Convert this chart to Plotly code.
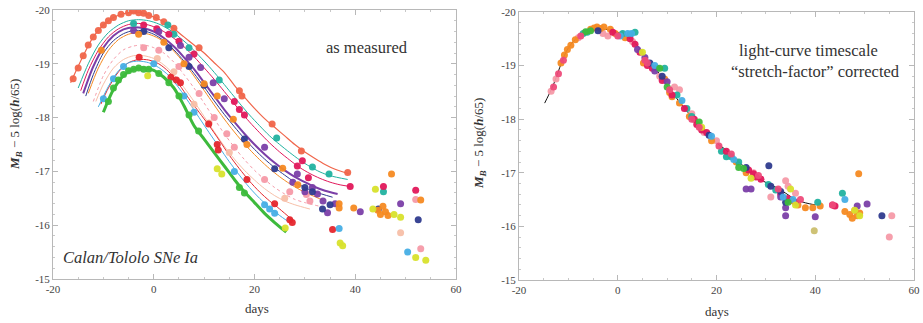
import plotly.graph_objects as go

# ---------------- LEFT PANEL: "as measured" light curves ----------------
lc_A_days = [-16.5,-14,-12,-10,-8,-6,-4,-2,0,2,4,6,8,10,12,14,16,18,20,22,24,26,28,30,32,34,36,38.7]
lc_A_mags = [-18.65,-19.15,-19.5,-19.72,-19.86,-19.93,-19.96,-19.94,-19.87,-19.78,-19.65,-19.5,-19.35,-19.2,-19.02,-18.84,-18.6,-18.38,-18.17,-17.98,-17.82,-17.66,-17.5,-17.36,-17.24,-17.13,-17.04,-16.96]
lc_B_days = [-15,-13,-11,-9,-7,-5,-3,-1,1,3,5,7,9,11,13,15,17,19,21,23,25,27,29,31,33,35,38.5]
lc_B_mags = [-18.55,-19.0,-19.35,-19.58,-19.72,-19.8,-19.82,-19.8,-19.74,-19.64,-19.5,-19.34,-19.15,-18.95,-18.73,-18.5,-18.27,-18.05,-17.85,-17.66,-17.5,-17.35,-17.21,-17.09,-16.99,-16.92,-16.85]
lc_C_days = [-14.5,-13,-11,-9,-7,-5,-3,-1,1,3,5,7,9,11,13,15,17,19,21,23,25,27,29,31,33,35,37,39]
lc_C_mags = [-18.5,-18.88,-19.25,-19.5,-19.65,-19.73,-19.75,-19.72,-19.65,-19.54,-19.4,-19.23,-19.03,-18.82,-18.6,-18.37,-18.14,-17.92,-17.72,-17.53,-17.36,-17.21,-17.07,-16.96,-16.87,-16.8,-16.75,-16.72]
lc_D_days = [-14,-12,-10,-8,-6,-4,-2,0,2,4,6,8,10,12,14,16,18,20,22,24,26,28,30,32,34,36.5]
lc_D_mags = [-18.45,-18.95,-19.3,-19.52,-19.64,-19.68,-19.66,-19.6,-19.48,-19.32,-19.12,-18.9,-18.65,-18.4,-18.15,-17.92,-17.7,-17.5,-17.32,-17.16,-17.02,-16.9,-16.8,-16.71,-16.64,-16.58]
lc_E_days = [-13.5,-12,-10,-8,-6,-4,-2,0,2,4,6,8,10,12,14,16,18,20,22,24,26,28,30,32,35.5]
lc_E_mags = [-18.4,-18.8,-19.2,-19.43,-19.56,-19.62,-19.61,-19.55,-19.43,-19.26,-19.05,-18.82,-18.57,-18.31,-18.06,-17.83,-17.61,-17.41,-17.23,-17.07,-16.93,-16.8,-16.7,-16.62,-16.52]
lc_F_days = [-13,-11,-9,-7,-5,-3,-1,1,3,5,7,9,11,13,15,17,19,21,23,25,27,29,31,34]
lc_F_mags = [-18.45,-18.92,-19.25,-19.45,-19.55,-19.58,-19.55,-19.47,-19.33,-19.13,-18.9,-18.64,-18.37,-18.1,-17.85,-17.62,-17.41,-17.22,-17.05,-16.9,-16.77,-16.66,-16.57,-16.45]
lc_G_days = [-12,-10,-8,-6,-4,-2,0,2,4,6,8,10,12,14,16,18,20,22,24,26,28,30,33]
lc_G_mags = [-18.3,-18.78,-19.08,-19.26,-19.33,-19.35,-19.3,-19.2,-19.03,-18.8,-18.55,-18.27,-17.98,-17.7,-17.45,-17.22,-17.02,-16.85,-16.7,-16.58,-16.48,-16.42,-16.35]
lc_H_days = [-11.5,-10,-8,-6,-4,-2,0,2,4,6,8,10,12,14,16,18,20,22,24,26,28,31]
lc_H_mags = [-18.3,-18.62,-18.92,-19.08,-19.15,-19.15,-19.1,-18.98,-18.8,-18.56,-18.3,-18.02,-17.74,-17.47,-17.23,-17.02,-16.84,-16.68,-16.55,-16.45,-16.38,-16.3]
lc_I_days = [-10.5,-9,-7,-5,-3,-1,1,3,5,7,9,11,13,15,17,19,21,23,25,27.5]
lc_I_mags = [-18.25,-18.55,-18.85,-19.02,-19.08,-19.07,-19.0,-18.85,-18.62,-18.35,-18.1,-17.85,-17.58,-17.3,-17.05,-16.82,-16.62,-16.45,-16.3,-16.1]
lc_J_days = [-11,-9,-7,-5,-3,-1,1,3,5,7,9,11,13,15,17,19,21,23,25,26.5]
lc_J_mags = [-18.2,-18.58,-18.87,-19.02,-19.05,-19.02,-18.93,-18.78,-18.55,-18.28,-18.0,-17.72,-17.45,-17.18,-16.93,-16.7,-16.5,-16.33,-16.18,-16.08]
lc_K_days = [-10,-8,-6,-4,-2,0,2,4,6,8,10,12,14,16,18,20,22,24,26.3]
lc_K_mags = [-18.1,-18.52,-18.78,-18.9,-18.92,-18.88,-18.75,-18.55,-18.22,-17.85,-17.6,-17.35,-17.1,-16.85,-16.62,-16.42,-16.22,-16.05,-15.87]

# measured points (left), per supernova colour group
mk_A_days = [-16,-15,-14,-13,-12,-11,-10,-9,-8,-6.5,-5,-4,-3,-2,-1,0.5,2,4,9,17,17.5,23.5,29.3,38.5]
mk_A_mags = [-18.72,-18.92,-19.15,-19.35,-19.5,-19.62,-19.72,-19.8,-19.86,-19.92,-19.95,-19.98,-19.95,-19.94,-19.9,-19.86,-19.78,-19.66,-19.3,-18.5,-18.4,-17.88,-17.38,-16.98]
mk_B_days = [-4,2.8,4,7,13,24.4,31.5,34.8,45.6]
mk_B_mags = [-19.75,-19.72,-19.55,-19.3,-18.7,-17.62,-17.08,-16.95,-16.62]
mk_C_days = [-2,0.6,3,5,8,16,17,18,28.5,29.5,30.7,39,45.6,52]
mk_C_mags = [-19.72,-19.65,-19.55,-19.42,-19.18,-18.3,-18.15,-18.05,-17.1,-17.2,-16.88,-16.72,-16.72,-16.65]
mk_D_days = [-4,1,5.3,7,9.3,11.8,14,22,27.6,28.5,30,31.5,32.5,33.6,34.5,36,41,49]
mk_D_mags = [-19.62,-19.6,-19.34,-19.12,-18.93,-18.65,-18.35,-17.45,-16.8,-16.95,-16.62,-16.7,-16.58,-16.45,-16.23,-16.4,-16.25,-16.4]
mk_E_days = [-2,3,7,10,18,24,30,31.5,33.5,35,44.6,52.5]
mk_E_mags = [-19.6,-19.3,-18.95,-18.6,-17.6,-17.05,-16.7,-16.62,-16.3,-16.38,-16.3,-16.1]
mk_F_days = [-10.4,-3,2,6,10,12.6,15.8,18.5,25.6,28.6,36.8,36.8,39.7,44.5,45,46,45.5,46.5,47.2,53]
mk_F_mags = [-19.25,-19.55,-19.4,-19.0,-18.63,-18.4,-17.97,-17.5,-17.06,-16.75,-16.4,-16.32,-16.32,-16.28,-16.2,-16.25,-16.35,-16.18,-16.95,-16.47]
mk_G_days = [-2,1,5,9,12,14.5,16,22,27,30.3,31,52,53]
mk_G_mags = [-19.3,-19.25,-18.95,-18.45,-18.0,-17.7,-17.45,-16.85,-16.62,-16.57,-16.45,-16.48,-15.56]
mk_H_days = [0.7,4,8,11,15,26,49]
mk_H_mags = [-19.1,-18.85,-18.25,-17.9,-17.35,-16.5,-15.86]
mk_I_days = [-2.9,3.4,4.5,5.3,10.9,12.6,12.8,18.5,24,27,27.5,35.5]
mk_I_mags = [-19.12,-18.75,-18.7,-18.65,-17.88,-17.5,-17.4,-16.85,-16.4,-16.1,-16.05,-15.92]
mk_J_days = [-10,-8,-6,0,6,8,16,22,23,24,36.8,50.4]
mk_J_mags = [-18.35,-18.72,-18.95,-19.0,-18.4,-18.1,-17.0,-16.38,-16.3,-16.22,-15.94,-15.5]
mk_K_days = [-9,-8,-7,-6,-5,-4,-3,-2,-1,1,3,5,7,8.9,17,18]
mk_K_mags = [-18.3,-18.55,-18.7,-18.8,-18.87,-18.9,-18.92,-18.9,-18.9,-18.82,-18.65,-18.4,-18.05,-17.75,-16.7,-16.6]
mk_Y_days = [-1.2,12.6,13.5,26.1,37,37.5,43.5,44,47.7,49,52,54]
mk_Y_mags = [-18.78,-17.05,-16.95,-15.95,-15.67,-15.62,-16.3,-16.67,-16.2,-16.15,-15.4,-15.35]

# ---------------- RIGHT PANEL: stretch-corrected ----------------
tmpl_days = [-14.8,-14,-13,-12,-11,-10,-9,-8,-6,-4,-2,0,2,4,6,8,10,12,14,16,18,20,22,24,26,28,30,32,34,36,38,40]
tmpl_mags = [-18.3,-18.45,-18.65,-18.9,-19.15,-19.33,-19.45,-19.53,-19.63,-19.68,-19.67,-19.62,-19.53,-19.37,-19.1,-18.9,-18.63,-18.38,-18.15,-17.94,-17.74,-17.56,-17.42,-17.25,-17.08,-16.92,-16.82,-16.73,-16.62,-16.5,-16.44,-16.4]

rc_orange_days = [-11.5,-10.8,-10.2,-9.5,-8.6,-5.5,-4.8,-4.2,-3.5,-2.8,-1.5,-0.5,0.8,1.5,5.2,9.5,10.5,11,12.5,14.5,19,24,26,35,36.5,38,39.5,41,46,47,48,48.5,47.5,49,48.8]
rc_orange_mags = [-19.05,-19.2,-19.3,-19.38,-19.48,-19.68,-19.7,-19.72,-19.69,-19.72,-19.68,-19.6,-19.58,-19.52,-19.05,-18.75,-18.5,-18.42,-18.3,-18.05,-17.6,-17.2,-17.0,-16.48,-16.4,-16.35,-16.35,-16.38,-16.28,-16.22,-16.3,-16.2,-16.15,-16.25,-16.98]
rc_red_days = [-1,2.5,3.5,4.5,6,7,9,11,13.5,15.5,16,17,18,22,26.5,27.5,28,29,33,34.5,36,43.5,44]
rc_red_mags = [-19.62,-19.5,-19.4,-19.25,-19.0,-18.95,-18.72,-18.45,-18.2,-18.0,-17.9,-17.8,-17.75,-17.4,-17.05,-16.98,-16.92,-16.88,-16.6,-16.52,-16.45,-16.4,-16.38]
rc_teal_days = [-7,-6.2,1,2.5,3.5,8,9.5,12,14,15,21,22,23,24.5,30.5,32,40.5,45.5]
rc_teal_mags = [-19.6,-19.62,-19.6,-19.58,-19.62,-18.95,-18.95,-18.45,-18.2,-18.05,-17.4,-17.3,-17.3,-17.2,-16.78,-16.68,-16.45,-16.62]
rc_purple_days = [4,5.5,7.5,10,26,27,33,34,34,40,48.5,50.5]
rc_purple_mags = [-19.3,-19.15,-18.9,-18.7,-16.7,-16.7,-16.55,-16.35,-16.2,-16.18,-16.38,-16.42]
rc_navy_days = [-4,6.5,9,18.5,26,30.6,31,33,34,53.5]
rc_navy_mags = [-19.65,-19.05,-18.8,-17.7,-17.1,-17.13,-16.75,-16.65,-16.45,-16.2]
rc_sky_days = [0.5,2,2.8,7.5,13,19,23.5,33.5,35.5,46]
rc_sky_mags = [-19.55,-19.6,-19.6,-19.0,-18.35,-17.68,-17.25,-16.55,-16.5,-16.5]
rc_green_days = [-6.5,-5.5,8.5,10,16.5,24.5,25.5,34.5]
rc_green_mags = [-19.63,-19.65,-18.95,-18.6,-17.95,-17.1,-17.08,-16.45]
rc_yellow_days = [5,17,27,35,36,48,49]
rc_yellow_mags = [-19.25,-17.85,-16.9,-16.7,-16.4,-16.3,-16.2]
rc_khaki_days = [39.8]
rc_khaki_mags = [-15.92]
rc_pink_days = [-13.5,-12.5,-8,-3,-2,3,8.5,11.5,12.5,15,17.5,20,27.5,34,34.5,36,31,55.5,55]
rc_pink_mags = [-18.52,-18.75,-19.52,-19.6,-19.55,-19.45,-18.8,-18.6,-18.55,-18.1,-17.75,-17.6,-17.0,-16.85,-16.75,-16.62,-16.55,-16.2,-15.8]
rc_rasp_days = [-13,-12,-11,-7.5,0,5.5,6,10.5,15,16.5,20.5,23,28.5,32.5,37,43.5]
rc_rasp_mags = [-18.6,-18.85,-19.1,-19.55,-19.55,-19.1,-19.05,-18.55,-18.0,-17.85,-17.5,-17.35,-16.95,-16.7,-16.5,-16.4]

x_ticks = [-20, 0, 20, 40, 60]
x_tick_text = ["-20", "0", "20", "40", "60"]
y_ticks = [-20, -19, -18, -17, -16, -15]
y_tick_text = ["-20", "-19", "-18", "-17", "-16", "-15"]

# ------------------------------------------------------------------
C_SALMON = "#f0654a"; C_TEAL = "#22b2a0"; C_CRIMSON = "#e2185b"; C_PURPLE = "#7b3fa8"
C_NAVY = "#2f3b8e"; C_ORANGE = "#f58a22"; C_PINK = "#f59aa8"; C_PEACH = "#f7bfa8"
C_RED = "#e5262d"; C_SKY = "#46aee5"; C_GREEN = "#3dba3c"; C_YELLOW = "#d8e22c"

fig = go.Figure()

def line(xs, ys, color, width=1.0, dash="solid", xa="x", ya="y"):
    fig.add_trace(go.Scatter(x=xs, y=ys, mode="lines", line=dict(color=color, width=width, dash=dash, shape="spline", smoothing=0.8),
                             xaxis=xa, yaxis=ya, hoverinfo="skip", showlegend=False))

def pts(xs, ys, color, size=7, xa="x", ya="y", op=0.95):
    fig.add_trace(go.Scatter(x=xs, y=ys, mode="markers", marker=dict(color=color, size=size, opacity=op, line=dict(width=0)),
                             xaxis=xa, yaxis=ya, showlegend=False))

curves = [
    (lc_A_days, lc_A_mags, C_SALMON, 1.2, "solid"),
    (lc_B_days, lc_B_mags, C_TEAL, 1.0, "solid"),
    (lc_C_days, lc_C_mags, C_CRIMSON, 1.0, "solid"),
    (lc_D_days, lc_D_mags, C_PURPLE, 2.0, "solid"),
    (lc_E_days, lc_E_mags, C_NAVY, 1.0, "solid"),
    (lc_F_days, lc_F_mags, C_ORANGE, 1.0, "solid"),
    (lc_G_days, lc_G_mags, C_PINK, 1.0, "dot"),
    (lc_H_days, lc_H_mags, C_PEACH, 1.0, "solid"),
    (lc_I_days, lc_I_mags, C_RED, 1.0, "solid"),
    (lc_J_days, lc_J_mags, C_SKY, 1.0, "solid"),
    (lc_K_days, lc_K_mags, C_GREEN, 3.0, "solid"),
]
for xs, ys, c, w, d in curves:
    line(xs, ys, c, w, d)

left_points = [
    (mk_H_days, mk_H_mags, C_PEACH), (mk_G_days, mk_G_mags, C_PINK),
    (mk_A_days, mk_A_mags, C_SALMON), (mk_B_days, mk_B_mags, C_TEAL),
    (mk_C_days, mk_C_mags, C_CRIMSON), (mk_D_days, mk_D_mags, C_PURPLE),
    (mk_E_days, mk_E_mags, C_NAVY), (mk_F_days, mk_F_mags, C_ORANGE),
    (mk_I_days, mk_I_mags, C_RED), (mk_J_days, mk_J_mags, C_SKY),
    (mk_K_days, mk_K_mags, C_GREEN), (mk_Y_days, mk_Y_mags, C_YELLOW),
]
for xs, ys, c in left_points:
    pts(xs, ys, c)

line(tmpl_days, tmpl_mags, "#111111", 1.0, "solid", "x2", "y2")
right_points = [
    (rc_pink_days, rc_pink_mags, C_PINK), (rc_orange_days, rc_orange_mags, C_ORANGE),
    (rc_teal_days, rc_teal_mags, C_TEAL), (rc_red_days, rc_red_mags, C_CRIMSON),
    (rc_purple_days, rc_purple_mags, C_PURPLE), (rc_navy_days, rc_navy_mags, C_NAVY),
    (rc_sky_days, rc_sky_mags, C_SKY), (rc_green_days, rc_green_mags, C_GREEN),
    (rc_yellow_days, rc_yellow_mags, C_YELLOW), (rc_khaki_days, rc_khaki_mags, "#cbbf6e"),
    (rc_rasp_days, rc_rasp_mags, "#ee4b7a"),
]
for xs, ys, c in right_points:
    pts(xs, ys, c, 7, "x2", "y2")

FONT = "Liberation Serif"
axis_common = dict(showline=True, linecolor="#b8b8b8", linewidth=1, mirror="ticks", ticks="inside", ticklen=5,
                   tickcolor="#b8b8b8", showgrid=False, zeroline=False, automargin=False,
                   tickfont=dict(family=FONT, size=11, color="#444444"))
xaxis_common = dict(axis_common, range=[-20, 60], tickvals=x_ticks, ticktext=x_tick_text,
                    minor=dict(ticks="inside", ticklen=2, tickcolor="#c8c8c8", dtick=5))
yaxis_common = dict(axis_common, range=[-15, -20], tickvals=y_ticks, ticktext=y_tick_text,
                    minor=dict(ticks="inside", ticklen=2, tickcolor="#c8c8c8", dtick=0.2))

fig.update_layout(
    width=923, height=323, margin=dict(l=0, r=0, t=0, b=0, autoexpand=False),
    paper_bgcolor="white", plot_bgcolor="white",
    xaxis=dict(xaxis_common, domain=[53/923, 456/923], anchor="y"),
    yaxis=dict(yaxis_common, domain=[44/323, 313/323], anchor="x"),
    xaxis2=dict(xaxis_common, domain=[519/923, 914/923], anchor="y2"),
    yaxis2=dict(yaxis_common, domain=[43/323, 311/323], anchor="x2"),
)

ytitle = "<b><i>M<sub>B</sub></i></b> − 5 log(<b><i>h</i></b>/65)"
ann = [
    dict(text="days", x=257, y=308, size=13),
    dict(text="days", x=717, y=311, size=13),
    dict(text="as measured", x=367, y=47, size=16.5),
    dict(text="<i>Calan/Tololo SNe Ia</i>", x=130, y=257, size=16.5),
    dict(text="light-curve timescale", x=808, y=50, size=16.5),
    dict(text="“stretch-factor” corrected", x=815, y=71, size=16.5),
]
for a in ann:
    fig.add_annotation(text=a["text"], xref="paper", yref="paper", x=a["x"]/923, y=1-a["y"]/323,
                       showarrow=False, xanchor="center", yanchor="middle",
                       font=dict(family=FONT, size=a["size"], color="#333333"))
for xp, yp in [(15, 125), (479, 143)]:
    fig.add_annotation(text=ytitle, xref="paper", yref="paper", x=xp/923, y=1-yp/323, textangle=-90,
                       showarrow=False, xanchor="center", yanchor="middle",
                       font=dict(family=FONT, size=13, color="#333333"))

fig.write_html("out.html", config={"displayModeBar": False},
               post_script="document.body.style.margin='0px';document.body.style.padding='0px';")
